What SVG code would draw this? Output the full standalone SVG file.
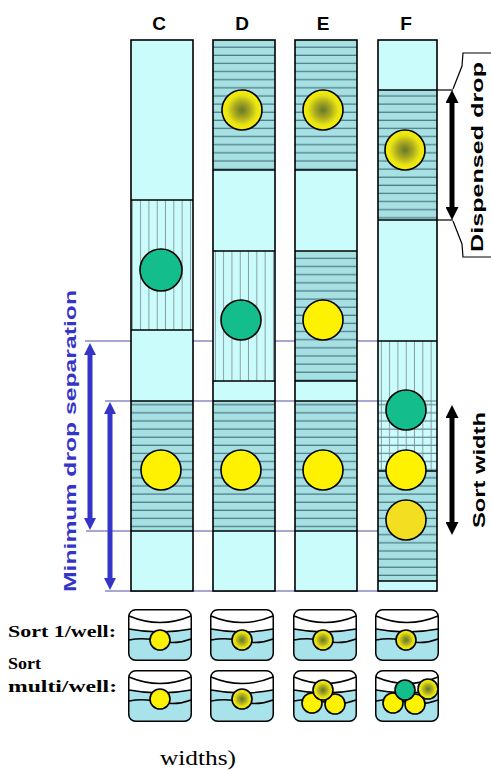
<svg xmlns="http://www.w3.org/2000/svg" xmlns:xlink="http://www.w3.org/1999/xlink" width="491" height="770" viewBox="0 0 491 770">
  <style>
    .lt { fill: #CAFCFC; }
    .hz { fill: url(#hzHatch); }
    .vt { fill: url(#vtHatch); }
    .edge { fill: none; stroke: #000; stroke-width: 1.6; }
    .sep { stroke: #000; stroke-width: 1.6; }
    .drop { stroke: #000; stroke-width: 1.6; }
    .yel { fill: #FFF200; }
    .grn { fill: #14BE8C; }
    .grad { fill: url(#dropGrad); }
    .guide { stroke: #5050A8; stroke-width: 1.2; fill: none; }
    .tick { stroke: #000; stroke-width: 1.2; fill: none; }
    .barrow { stroke: #3434C8; stroke-width: 5; marker-start: url(#headBlue); marker-end: url(#headBlue); }
    .karrow { stroke: #000; stroke-width: 5; marker-start: url(#headBlack); marker-end: url(#headBlack); }
    .col-label { font-family: "Liberation Sans", Arial, sans-serif; font-weight: bold; font-size: 19px; fill: #000; text-anchor: middle; }
    .side { font-family: "Liberation Sans", Arial, sans-serif; font-weight: bold; font-size: 17px; }
    .serif-b { font-family: "Liberation Serif", "Times New Roman", serif; font-weight: bold; font-size: 16px; fill: #000; }
    .dish-line { fill: none; stroke: #000; stroke-width: 1.5; }
  </style>
  <defs>
    <pattern id="hzHatch" patternUnits="userSpaceOnUse" width="10" height="8.125">
      <rect width="10" height="8.125" fill="#A6E0E2"/>
      <line x1="0" y1="6.6" x2="10" y2="6.6" stroke="#4E7C8A" stroke-width="1.3"/>
    </pattern>
    <pattern id="vtHatch" patternUnits="userSpaceOnUse" width="8.3" height="10">
      <rect width="8.3" height="10" fill="#CAFCFC"/>
      <line x1="7.9" y1="0" x2="7.9" y2="10" stroke="#8A9AA2" stroke-width="1.1"/>
    </pattern>
    <pattern id="hzLines" patternUnits="userSpaceOnUse" width="10" height="8.125">
      <line x1="0" y1="6.6" x2="10" y2="6.6" stroke="#6A8C98" stroke-width="1.2"/>
    </pattern>
    <radialGradient id="dropGrad" cx="50%" cy="50%" r="50%">
      <stop offset="0" stop-color="#66782A"/>
      <stop offset="0.4" stop-color="#A8A820"/>
      <stop offset="0.75" stop-color="#E8E412"/>
      <stop offset="1" stop-color="#F6EE08"/>
    </radialGradient>
    <marker id="headBlue" markerUnits="userSpaceOnUse" viewBox="0 0 10 10" refX="0" refY="5" markerWidth="12" markerHeight="12" orient="auto-start-reverse">
      <path d="M0,0 L10,5 L0,10 z" fill="#3434C8"/>
    </marker>
    <marker id="headBlack" markerUnits="userSpaceOnUse" viewBox="0 0 10 10" refX="0" refY="5" markerWidth="13" markerHeight="13" orient="auto-start-reverse">
      <path d="M0,0 L10,5 L0,10 z" fill="#000"/>
    </marker>
    <clipPath id="dishClip">
      <rect x="0" y="0" width="64" height="52" rx="7"/>
    </clipPath>
    <!-- culture dish: white lid over cyan medium -->
    <g id="dish">
      <rect x="0" y="0" width="64" height="52" rx="7" fill="#fff"/>
      <path d="M0,20 Q32,26 64,20 L64,52 L0,52 z" fill="#A8E2EA" clip-path="url(#dishClip)"/>
      <path class="dish-line" d="M1,7 Q32,20 63,7"/>
      <path class="dish-line" d="M1,20 Q32,26 63,20"/>
      <path class="dish-line" d="M1,31 Q16,28 32,32 Q48,36 63,30"/>
      <rect class="dish-line" x="0.75" y="0.75" width="62.5" height="50.5" rx="7"/>
    </g>
  </defs>

  <rect width="491" height="770" fill="#fff"/>

  <!-- guides and dimension arrows -->
  <g id="connectors">
    <line class="guide" x1="85" y1="341" x2="378" y2="341"/>
    <line class="guide" x1="105" y1="401" x2="378" y2="401"/>
    <line class="guide" x1="86" y1="531" x2="378" y2="531"/>
    <line class="guide" x1="105" y1="591" x2="437" y2="591"/>
    <line class="barrow" x1="90" y1="355" x2="90" y2="518"/>
    <line class="barrow" x1="110" y1="414" x2="110" y2="578"/>

    <line class="tick" x1="437" y1="90" x2="453" y2="90"/>
    <line class="tick" x1="437" y1="220" x2="453" y2="220"/>
    <polyline class="tick" points="453,89 462,66 463,53 491,53"/>
    <polyline class="tick" points="453,221 462,244 463,257 491,257"/>
    <line class="karrow" x1="452" y1="103" x2="452" y2="207"/>
    <line class="karrow" x1="452" y1="418" x2="452" y2="522"/>
  </g>

  <!-- column C -->
  <g id="col-C">
    <rect class="lt" x="131" y="40" width="62" height="160"/>
    <rect class="vt" x="131" y="200" width="62" height="130"/>
    <rect class="lt" x="131" y="330" width="62" height="71"/>
    <rect class="hz" x="131" y="401" width="62" height="130"/>
    <rect class="lt" x="131" y="531" width="62" height="60"/>
    <line class="sep" x1="131" y1="200" x2="193" y2="200"/>
    <line class="sep" x1="131" y1="330" x2="193" y2="330"/>
    <line class="sep" x1="131" y1="401" x2="193" y2="401"/>
    <line class="sep" x1="131" y1="531" x2="193" y2="531"/>
    <rect class="edge" x="131" y="40" width="62" height="551"/>
    <circle class="drop grn" cx="161" cy="270" r="21"/>
    <circle class="drop yel" cx="161" cy="470" r="20"/>
  </g>

  <!-- column D -->
  <g id="col-D">
    <rect class="hz" x="213" y="40" width="62" height="130"/>
    <rect class="lt" x="213" y="170" width="62" height="81"/>
    <rect class="vt" x="213" y="251" width="62" height="130"/>
    <rect class="lt" x="213" y="381" width="62" height="20"/>
    <rect class="hz" x="213" y="401" width="62" height="130"/>
    <rect class="lt" x="213" y="531" width="62" height="60"/>
    <line class="sep" x1="213" y1="170" x2="275" y2="170"/>
    <line class="sep" x1="213" y1="251" x2="275" y2="251"/>
    <line class="sep" x1="213" y1="381" x2="275" y2="381"/>
    <line class="sep" x1="213" y1="401" x2="275" y2="401"/>
    <line class="sep" x1="213" y1="531" x2="275" y2="531"/>
    <rect class="edge" x="213" y="40" width="62" height="551"/>
    <circle class="drop grad" cx="242" cy="110" r="20"/>
    <circle class="drop grn" cx="241" cy="320" r="20"/>
    <circle class="drop yel" cx="241" cy="470" r="20"/>
  </g>

  <!-- column E -->
  <g id="col-E">
    <rect class="hz" x="295" y="40" width="62" height="130"/>
    <rect class="lt" x="295" y="170" width="62" height="81"/>
    <rect class="hz" x="295" y="251" width="62" height="130"/>
    <rect class="lt" x="295" y="381" width="62" height="20"/>
    <rect class="hz" x="295" y="401" width="62" height="130"/>
    <rect class="lt" x="295" y="531" width="62" height="60"/>
    <line class="sep" x1="295" y1="170" x2="357" y2="170"/>
    <line class="sep" x1="295" y1="251" x2="357" y2="251"/>
    <line class="sep" x1="295" y1="381" x2="357" y2="381"/>
    <line class="sep" x1="295" y1="401" x2="357" y2="401"/>
    <line class="sep" x1="295" y1="531" x2="357" y2="531"/>
    <rect class="edge" x="295" y="40" width="62" height="551"/>
    <circle class="drop grad" cx="323" cy="110" r="20"/>
    <circle class="drop yel" cx="323" cy="320" r="20"/>
    <circle class="drop yel" cx="323" cy="470" r="20"/>
  </g>

  <!-- column F -->
  <g id="col-F">
    <rect class="lt" x="378" y="40" width="59" height="50"/>
    <rect class="hz" x="378" y="90" width="59" height="130"/>
    <rect class="lt" x="378" y="220" width="59" height="121"/>
    <rect class="vt" x="378" y="341" width="59" height="130"/>
    <rect x="378" y="401" width="59" height="70" fill="url(#hzLines)"/>
    <rect class="hz" x="378" y="471" width="59" height="110"/>
    <rect class="lt" x="378" y="581" width="59" height="10"/>
    <line class="sep" x1="378" y1="90" x2="437" y2="90"/>
    <line class="sep" x1="378" y1="220" x2="437" y2="220"/>
    <line class="sep" x1="378" y1="341" x2="437" y2="341"/>
    <line x1="378" y1="401" x2="437" y2="401" stroke="#4E7C8A" stroke-width="1.2"/>
    <line class="sep" x1="378" y1="471" x2="437" y2="471"/>
    <line class="sep" x1="378" y1="581" x2="437" y2="581"/>
    <rect class="edge" x="378" y="40" width="59" height="551"/>
    <circle class="drop grad" cx="405" cy="150" r="20"/>
    <circle class="drop grn" cx="406" cy="410" r="20"/>
    <circle class="drop yel" cx="406" cy="470" r="20"/>
    <circle class="drop" cx="406" cy="520" r="20" fill="#F4DE22"/>
  </g>

  <!-- column headings -->
  <g id="labels">
    <text class="col-label" x="159" y="30">C</text>
    <text class="col-label" x="242" y="30">D</text>
    <text class="col-label" x="323" y="30">E</text>
    <text class="col-label" x="406" y="30">F</text>
  </g>

  <g id="label-separation">
    <text class="side" fill="#3434C8" font-size="18" transform="translate(76,592) rotate(-90)" textLength="302" lengthAdjust="spacingAndGlyphs">Minimum drop separation</text>
  </g>
  <g id="label-dispensed">
    <text class="side" fill="#000" transform="translate(483,252) rotate(-90)" textLength="190" lengthAdjust="spacingAndGlyphs">Dispensed drop</text>
  </g>
  <g id="label-sortwidth">
    <text class="side" fill="#000" font-size="18" transform="translate(485,528) rotate(-90)" textLength="116" lengthAdjust="spacingAndGlyphs">Sort width</text>
  </g>

  <!-- row captions -->
  <g id="row-labels">
    <text class="serif-b" x="8" y="637" textLength="108" lengthAdjust="spacingAndGlyphs">Sort 1/well:</text>
    <text class="serif-b" x="8" y="669" textLength="33" lengthAdjust="spacingAndGlyphs">Sort</text>
    <text class="serif-b" x="8" y="692" textLength="109" lengthAdjust="spacingAndGlyphs">multi/well:</text>
  </g>

  <!-- one drop per well -->
  <g id="dish-C1">
    <use xlink:href="#dish" href="#dish" x="128" y="609"/>
    <circle class="drop yel" cx="160" cy="640" r="10"/>
  </g>
  <g id="dish-D1">
    <use xlink:href="#dish" href="#dish" x="210" y="609"/>
    <circle class="drop grad" cx="242" cy="640" r="10"/>
  </g>
  <g id="dish-E1">
    <use xlink:href="#dish" href="#dish" x="293" y="609"/>
    <circle class="drop grad" cx="323" cy="640" r="10"/>
  </g>
  <g id="dish-F1">
    <use xlink:href="#dish" href="#dish" x="375" y="609"/>
    <circle class="drop grad" cx="406" cy="640" r="10"/>
  </g>

  <!-- several drops per well -->
  <g id="dish-C2">
    <use xlink:href="#dish" href="#dish" x="128" y="670"/>
    <circle class="drop yel" cx="160" cy="699" r="10"/>
  </g>
  <g id="dish-D2">
    <use xlink:href="#dish" href="#dish" x="210" y="670"/>
    <circle class="drop grad" cx="242" cy="699" r="10"/>
  </g>
  <g id="dish-E2">
    <use xlink:href="#dish" href="#dish" x="293" y="670"/>
    <circle class="drop yel" cx="312" cy="703" r="10"/>
    <circle class="drop yel" cx="335" cy="704" r="10"/>
    <circle class="drop grad" cx="323" cy="690" r="10"/>
  </g>
  <g id="dish-F2">
    <use xlink:href="#dish" href="#dish" x="375" y="670"/>
    <circle class="drop yel" cx="393" cy="703" r="10"/>
    <circle class="drop yel" cx="415" cy="704" r="10"/>
    <circle class="drop grn" cx="405" cy="690" r="10"/>
    <circle class="drop grad" cx="428" cy="689" r="10"/>
  </g>

  <text x="160" y="765" font-family="'Liberation Serif', 'Times New Roman', serif" font-size="21" textLength="76" lengthAdjust="spacingAndGlyphs">widths)</text>
</svg>
